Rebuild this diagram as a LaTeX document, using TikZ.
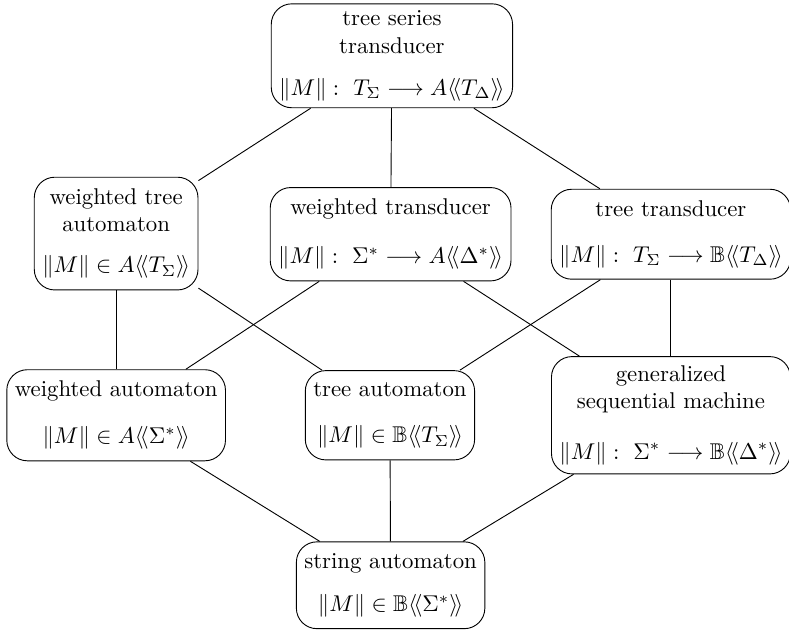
\documentclass[tikz,border=0pt]{standalone}
\usepackage{amsmath,amssymb}
\usepackage{tikz}
\usetikzlibrary{shapes,positioning}
\tikzset{box/.style={rectangle,draw,rounded corners=9pt,align=center,inner xsep=3.5pt,inner ysep=5pt}}

\begin{document}
\begin{tikzpicture}[>=stealth]
        \useasboundingbox (0,0) rectangle (12.16,9.73);
        \node[box,inner ysep=3pt] (tst) at (6.04,8.87) {tree series\\ transducer\\[6.5pt] $\|M\| :\ T_\Sigma \longrightarrow A\langle\!\langle T_\Delta\rangle\!\rangle$};
        \node[box] (wta) at (1.79,6.13) {weighted tree\\ automaton\\[6pt] $\|M\| \in A\langle\!\langle T_\Sigma\rangle\!\rangle$};
        \node[box] (wt) at (6.02,6.12) {weighted transducer\\[9.5pt] $\|M\| :\ \Sigma^* \longrightarrow A\langle\!\langle \Delta^*\rangle\!\rangle$};
        \node[box] (tt) at (10.34,6.12) {tree transducer\\[8pt] $\|M\| :\ T_\Sigma \longrightarrow \mathbb{B}\langle\!\langle T_\Delta\rangle\!\rangle$};
        \node[box] (wa) at (1.79,3.33) {weighted automaton\\[8.5pt] $\|M\| \in A\langle\!\langle \Sigma^*\rangle\!\rangle$};
        \node[box] (ta) at (6.01,3.33) {tree automaton\\[8.5pt] $\|M\| \in \mathbb{B}\langle\!\langle T_\Sigma\rangle\!\rangle$};
        \node[box,inner ysep=4pt] (gsm) at (10.34,3.33) {generalized\\ sequential machine\\[10pt] $\|M\| :\ \Sigma^* \longrightarrow \mathbb{B}\langle\!\langle \Delta^*\rangle\!\rangle$};
        \node[box] (sa) at (6.02,0.71) {string automaton\\[7pt] $\|M\| \in \mathbb{B}\langle\!\langle \Sigma^*\rangle\!\rangle$};

        \draw [] (tst) to [] (wta);
        \draw [] (tst) to [] (wt);
        \draw [] (tst) to [] (tt);
        \draw [] (wta) to [] (wa);
        \draw [] (wta) to [] (ta);
        \draw [] (wt) to [] (wa);
        \draw [] (wt) to [] (gsm);
        \draw [] (tt) to [] (ta);
        \draw [] (tt) to [] (gsm);
        \draw [] (wa) to [] (sa);
        \draw [] (ta) to [] (sa);
        \draw [] (gsm) to [] (sa);

    \end{tikzpicture}
\end{document}
